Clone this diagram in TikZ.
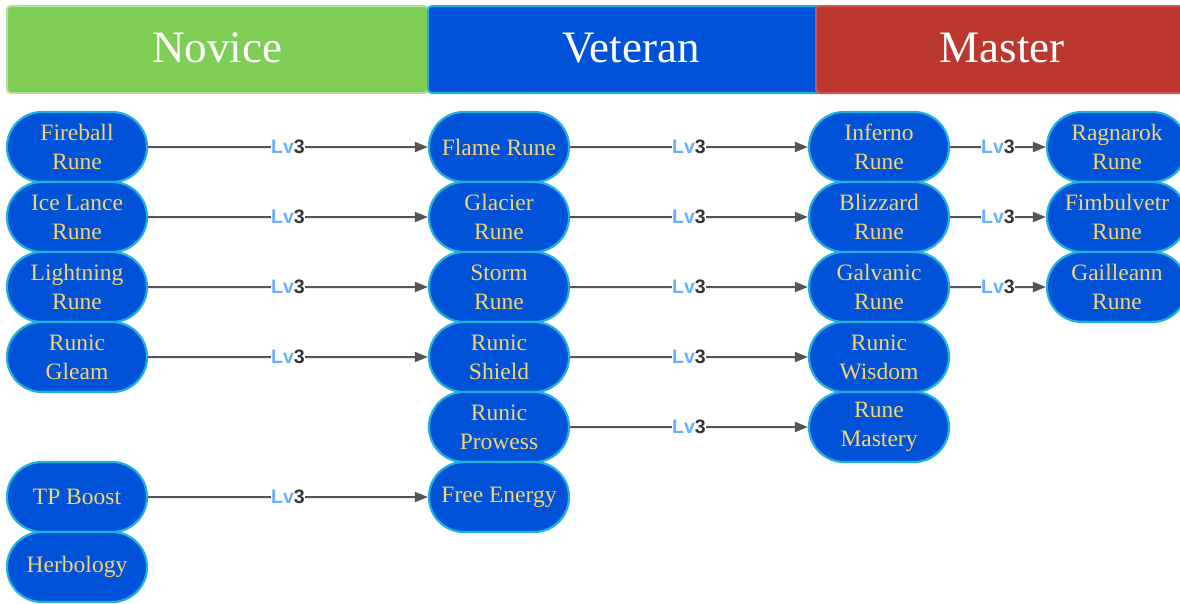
\documentclass[tikz,border=0pt]{standalone}
\usepackage{fontspec}
\setmainfont{Liberation Serif}
\newfontfamily\lvfont{Liberation Sans}
\usetikzlibrary{arrows.meta,shapes.misc}
\definecolor{runeblue}{HTML}{0052D9}
\definecolor{runeedge}{HTML}{1FB0DC}
\definecolor{runetext}{HTML}{F6D46E}
\definecolor{novicegreen}{HTML}{7ECE55}
\definecolor{noviceedge}{HTML}{B2E09A}
\definecolor{masterred}{HTML}{BC382E}
\definecolor{masteredge}{HTML}{D2505A}
\definecolor{linkgray}{HTML}{555555}
\definecolor{lvblue}{HTML}{6AAEFF}
\definecolor{lvdark}{HTML}{333333}
\tikzset{
  rune/.style={rounded rectangle, draw=runeedge, line width=2.2pt, fill=runeblue,
    minimum width=140pt, minimum height=70pt, inner sep=0pt,
    text=runetext, align=center, font=\fontsize{23.5}{29}\selectfont},
  tier/.style={rounded corners=4pt, line width=2pt},
  tiertext/.style={text=white, font=\fontsize{45}{48}\selectfont},
  link/.style={draw=linkgray, line width=2pt, -{Triangle[length=13pt,width=10pt]}},
  lv/.style={fill=white, inner sep=0.5pt, font=\lvfont\bfseries\fontsize{19.5}{20}\selectfont}
}
\newcommand{\lvthree}{\textcolor{lvblue}{Lv}\textcolor{lvdark}{3}}
\begin{document}
\begin{tikzpicture}[x=1pt,y=-1pt]
\useasboundingbox (0,0) rectangle (1180,603);
\fill[white] (0,0) rectangle (1180,603);
% tier headers
\draw[tier, fill=novicegreen, draw=noviceedge] (7,6) rectangle (428,93);
\draw[tier, fill=runeblue, draw=runeedge] (428,6) rectangle (822,93);
\draw[tier, fill=masterred, draw=masteredge] (816,6) rectangle (1190,93);
\node[tiertext] (novice) at (217,48) {Novice};
\node[tiertext] (veteran) at (631,48) {Veteran};
\node[tiertext] (master) at (1002,48) {Master};
% novice column
\node[rune] (a1) at (77,147) {Fireball\\Rune};
\node[rune] (a2) at (77,217) {Ice Lance\\Rune};
\node[rune] (a3) at (77,287) {Lightning\\Rune};
\node[rune] (a4) at (77,357) {Runic\\Gleam};
\node[rune] (a6) at (77,497) {TP Boost};
\node[rune] (a7) at (77,567) {Herbology};
% veteran column
\node[rune] (b1) at (499,147) {Flame Rune};
\node[rune] (b2) at (499,217) {Glacier\\Rune};
\node[rune] (b3) at (499,287) {Storm\\Rune};
\node[rune] (b4) at (499,357) {Runic\\Shield};
\node[rune] (b5) at (499,427) {Runic\\Prowess};
\node[rune] (b6) at (499,497) {Free Energy};
% master column
\node[rune] (c1) at (879,147) {Inferno\\Rune};
\node[rune] (c2) at (879,217) {Blizzard\\Rune};
\node[rune] (c3) at (879,287) {Galvanic\\Rune};
\node[rune] (c4) at (879,357) {Runic\\Wisdom};
\node[rune] (c5) at (879,427) {Rune\\Mastery};
% final column
\node[rune] (d1) at (1117,147) {Ragnarok\\Rune};
\node[rune] (d2) at (1117,217) {Fimbulvetr\\Rune};
\node[rune] (d3) at (1117,287) {Gailleann\\Rune};
% upgrade links
\foreach \s/\t in {a1/b1,a2/b2,a3/b3,a4/b4,a6/b6,b1/c1,b2/c2,b3/c3,b4/c4,b5/c5,c1/d1,c2/d2,c3/d3}
  \draw[link] (\s) -- node[lv] {\lvthree} (\t);
\end{tikzpicture}
\end{document}
